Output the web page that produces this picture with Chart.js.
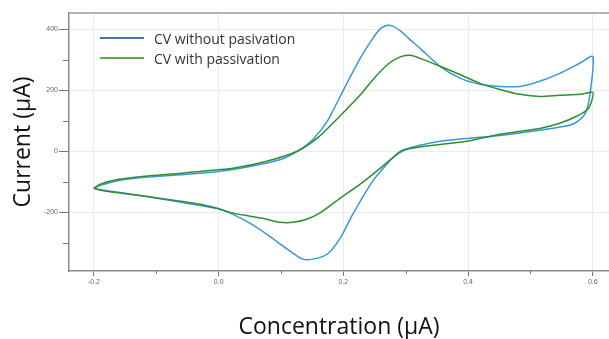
<!DOCTYPE html>
<html>
<head>
<meta charset="utf-8">
<script src="https://cdn.jsdelivr.net/npm/chart.js@4/dist/chart.umd.min.js"></script>
<style>
  body { margin: 0; background: #fff; overflow: hidden; }
  #wrap { position: relative; width: 609px; height: 339px; }
  #myChart { display: block; }
  #legend { position: absolute; left: 100px; top: 28px; font-family: "Open Sans", sans-serif; font-size: 14px; color: #333; }
  .row { height: 20px; display: flex; align-items: center; }
  .row span.line { display: inline-block; width: 44px; height: 2px; margin-right: 10px; }
</style>
</head>
<body>
<div id="wrap">
  <canvas id="myChart" width="609" height="339"></canvas>
  <div id="legend">
    <div class="row"><span class="line" style="background:#4577b8"></span>CV without pasivation</div>
    <div class="row"><span class="line" style="background:#5fa84a"></span>CV with passivation</div>
  </div>
</div>
<script>
// data
var blueX = [-0.2, -0.19, -0.16, -0.11, -0.06, -0.03, 0.0, 0.05, 0.098, 0.126, 0.151, 0.174, 0.199, 0.227, 0.247, 0.259, 0.27, 0.28, 0.291, 0.305, 0.323, 0.355, 0.387, 0.419, 0.451, 0.483, 0.515, 0.547, 0.579, 0.6,
  0.595, 0.587, 0.571, 0.555, 0.515, 0.451, 0.403, 0.355, 0.323, 0.291, 0.267, 0.247, 0.215, 0.195, 0.174, 0.151, 0.135, 0.110, 0.077, 0.050, 0.023, 0.002, -0.030, -0.11, -0.19, -0.2];
var blueY = [-121, -112, -96, -84, -77, -72, -66, -50, -28, 0, 39, 98, 197, 305, 370, 402, 413, 410, 396, 370, 338, 279, 240, 220, 213, 213, 230, 256, 289, 311,
  180, 121, 92, 82, 69, 52, 43, 33, 20, 0, -49, -98, -207, -285, -338, -354, -354, -321, -272, -236, -207, -190, -178, -150, -126, -121];

var greenX = [-0.2, -0.19, -0.16, -0.11, -0.06, -0.03, 0.023, 0.077, 0.126, 0.158, 0.197, 0.228, 0.249, 0.271, 0.291, 0.307, 0.323, 0.355, 0.387, 0.419, 0.451, 0.483, 0.515, 0.547, 0.579, 0.6,
  0.598, 0.592, 0.574, 0.547, 0.515, 0.451, 0.398, 0.344, 0.302, 0.286, 0.259, 0.227, 0.195, 0.162, 0.141, 0.119, 0.098, 0.077, 0.050, 0.023, -0.003, -0.030, -0.11, -0.19, -0.2];
var greenY = [-121, -108, -92, -80, -72, -66, -56, -33, 0, 43, 121, 187, 239, 285, 310, 315, 305, 279, 252, 223, 203, 187, 180, 184, 187, 193,
  164, 138, 115, 92, 75, 56, 33, 20, 7, -10, -56, -108, -154, -203, -223, -233, -233, -223, -213, -203, -187, -174, -150, -128, -121];

var labels = ["CV without pasivation", "CV with passivation"];
var xTicks = [-0.2, 0, 0.2, 0.4, 0.6];
var xLabels = ["-0.2", "0.0", "0.2", "0.4", "0.6"];
var xMinor = [-0.1, 0.1, 0.3, 0.5];
var yTicks = [-200, 0, 200, 400];
var yMinor = [-300, -100, 100, 300];

function pts(xs, ys) {
  return xs.map(function (x, i) { return { x: x, y: ys[i] }; });
}

var tickFont = { family: "Liberation Sans", size: 7 };
var titleFont = { family: "Open Sans", size: 23 };

// top frame line + minor tick marks
var extras = {
  id: "extras",
  afterDraw: function (chart) {
    var a = chart.chartArea, ctx = chart.ctx;
    var sx = chart.scales.x, sy = chart.scales.y;
    ctx.save();
    ctx.strokeStyle = "#9a9a9a";
    ctx.lineWidth = 1.5;
    ctx.beginPath();
    ctx.moveTo(a.left, a.top);
    ctx.lineTo(a.right, a.top);
    ctx.stroke();
    ctx.strokeStyle = "#777";
    ctx.lineWidth = 1;
    ctx.beginPath();
    xMinor.forEach(function (v) {
      var px = Math.round(sx.getPixelForValue(v)) + 0.5;
      ctx.moveTo(px, a.bottom);
      ctx.lineTo(px, a.bottom + 3);
    });
    yMinor.forEach(function (v) {
      var py = Math.round(sy.getPixelForValue(v)) + 0.5;
      ctx.moveTo(a.left - 6, py);
      ctx.lineTo(a.left, py);
    });
    ctx.stroke();
    ctx.restore();
  }
};

new Chart("myChart", {
  type: "scatter",
  data: {
    datasets: [
      { label: labels[1], data: pts(greenX, greenY), borderColor: "#2f8f2f", showLine: true, pointRadius: 0, borderWidth: 1.5, tension: 0.25 },
      { label: labels[0], data: pts(blueX, blueY), borderColor: "#3a98d4", showLine: true, pointRadius: 0, borderWidth: 1.5, tension: 0.25 }
    ]
  },
  plugins: [extras],
  options: {
    responsive: false,
    animation: false,
    layout: { padding: { top: 13, right: 0, left: 0, bottom: 0 } },
    plugins: { legend: { display: false }, tooltip: { enabled: false } },
    scales: {
      x: {
        min: -0.24, max: 0.626,
        afterBuildTicks: function (s) { s.ticks = xTicks.map(function (v) { return { value: v }; }); },
        afterFit: function (s) { s.height = 68; },
        ticks: {
          font: tickFont, color: "#666", padding: 2, maxRotation: 0, autoSkip: false,
          callback: function (v, i) { return xLabels[i]; }
        },
        grid: { color: "#ebebeb", tickColor: "#777", tickLength: 5 },
        border: { color: "#8a8a8a", width: 1.5 },
        title: { display: true, text: "Concentration (µA)", font: titleFont, color: "#111", padding: { top: 0, bottom: -2 } }
      },
      y: {
        min: -393, max: 454,
        afterBuildTicks: function (s) { s.ticks = yTicks.map(function (v) { return { value: v }; }); },
        afterFit: function (s) { s.width = 69; },
        ticks: { font: tickFont, color: "#666", padding: 1, autoSkip: false },
        grid: { color: "#ebebeb", tickColor: "#777", tickLength: 10 },
        border: { color: "#8a8a8a", width: 1.5 },
        title: { display: true, text: "Current (µA)", font: titleFont, color: "#111", padding: { top: 10, bottom: 0 } }
      }
    }
  }
});
</script>
</body>
</html>
